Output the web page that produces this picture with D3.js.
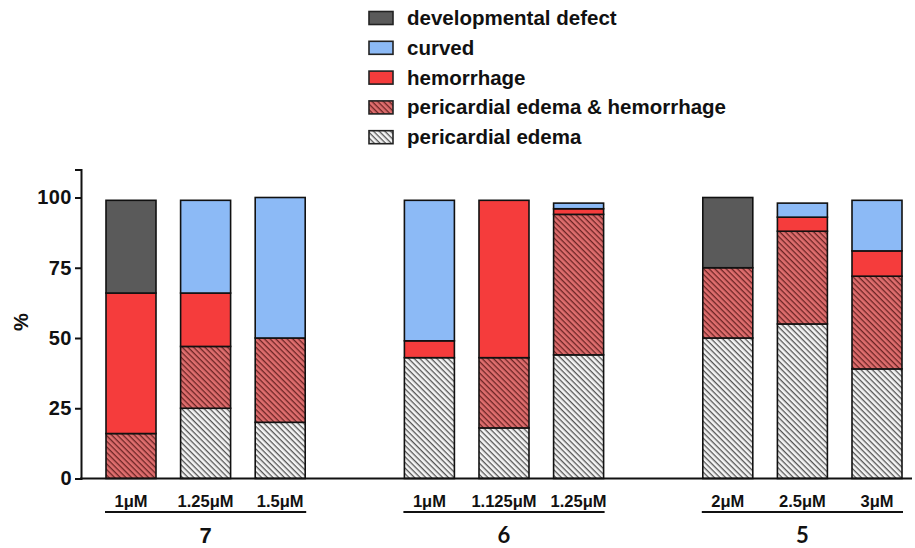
<!DOCTYPE html>
<html><head><meta charset="utf-8">
<script src="https://cdn.jsdelivr.net/npm/d3@7"></script>
<style>body{margin:0;background:#fff}svg{display:block}text{font-family:"Liberation Sans",Arial,sans-serif;font-weight:bold;fill:#111}</style>
</head><body>
<svg id="chart" width="915" height="548"></svg>
<script>
// ---- data ----
const groups = ["7", "6", "5"];
const concentrations = [
  ["1μM", "1.25μM", "1.5μM"],
  ["1μM", "1.125μM", "1.25μM"],
  ["2μM", "2.5μM", "3μM"]
];
const seriesNames = ["pericardial edema", "pericardial edema & hemorrhage", "hemorrhage", "curved", "developmental defect"];
const legendOrder = ["developmental defect", "curved", "hemorrhage", "pericardial edema & hemorrhage", "pericardial edema"];
// values per bar (order: group 7 x3, group 6 x3, group 5 x3)
const pericardialEdema     = [0, 25, 20, 43, 18, 44, 50, 55, 39];
const pericardialHemorrh   = [16, 22, 30, 0, 25, 50, 25, 33, 33];
const hemorrhage           = [50, 19, 0, 6, 56, 2, 0, 5, 9];
const curved               = [0, 33, 50, 50, 0, 2, 0, 5, 18];
const developmentalDefect  = [33, 0, 0, 0, 0, 0, 25, 0, 0];
const yTicks = [0, 25, 50, 75, 100];

// ---- build table ----
const rows = [];
let k = 0;
groups.forEach((g, gi) => {
  concentrations[gi].forEach((c, ci) => {
    rows.push({
      slot: gi * 4 + ci, group: g, conc: c,
      "pericardial edema": pericardialEdema[k],
      "pericardial edema & hemorrhage": pericardialHemorrh[k],
      "hemorrhage": hemorrhage[k],
      "curved": curved[k],
      "developmental defect": developmentalDefect[k]
    });
    k++;
  });
});

const svg = d3.select("#chart");
const defs = svg.append("defs");
function hatch(id, bg, line) {
  const p = defs.append("pattern").attr("id", id).attr("patternUnits", "userSpaceOnUse")
    .attr("width", 4).attr("height", 4).attr("patternTransform", "rotate(45)");
  p.append("rect").attr("width", 4).attr("height", 4).attr("fill", bg);
  p.append("line").attr("x1", 0).attr("y1", 0).attr("x2", 4).attr("y2", 0)
    .attr("stroke", line).attr("stroke-width", 2.6);
}
hatch("hPE", "#f4f4f4", "#555");
hatch("hPEH", "#df6e6e", "#6b2424");
const fills = {
  "developmental defect": "#5a5a5a",
  "curved": "#8cbaf6",
  "hemorrhage": "#f53c3c",
  "pericardial edema & hemorrhage": "url(#hPEH)",
  "pericardial edema": "url(#hPE)"
};

const x = d3.scalePoint().domain(d3.range(11)).range([131, 877]);
const barW = 50;
const y = d3.scaleLinear().domain([0, 110]).range([478.5, 169.4]);

const stack = d3.stack().keys(seriesNames)(rows);
const g = svg.append("g");
stack.forEach(s => {
  g.selectAll(null).data(s.filter(d => d[1] - d[0] > 0)).enter().append("rect")
    .attr("x", d => x(d.data.slot) - barW / 2)
    .attr("width", barW)
    .attr("y", d => y(d[1]))
    .attr("height", d => y(d[0]) - y(d[1]))
    .attr("fill", fills[s.key])
    .attr("stroke", "#111").attr("stroke-width", 1.6);
});

// y axis
const yAxis = svg.append("g").attr("transform", "translate(81,0)")
  .call(d3.axisLeft(y).tickValues(yTicks).tickSize(6).tickPadding(3));
yAxis.select(".domain").attr("stroke", "#111").attr("stroke-width", 2);
yAxis.selectAll(".tick line").attr("stroke", "#111").attr("stroke-width", 2);
yAxis.selectAll(".tick text").style("font-size", "20px").style("font-family", "Liberation Sans, Arial, sans-serif")
  .style("font-weight", "bold").style("letter-spacing", "0.5px").attr("fill", "#111");

// x baseline
svg.append("line").attr("x1", 80).attr("x2", 912).attr("y1", y(0)).attr("y2", y(0))
  .attr("stroke", "#111").attr("stroke-width", 2);

// concentration labels
svg.selectAll(".conc").data(rows).enter().append("text")
  .attr("x", d => x(d.slot)).attr("y", 507)
  .attr("text-anchor", "middle").style("font-size", "16.5px")
  .text(d => d.conc);

// group underline + label
groups.forEach((gname, gi) => {
  const s0 = gi * 4, s2 = gi * 4 + 2;
  svg.append("line").attr("x1", x(s0) - barW / 2 - 1).attr("x2", x(s2) + barW / 2 + 1)
    .attr("y1", 512).attr("y2", 512).attr("stroke", "#111").attr("stroke-width", 2);
  svg.append("text").attr("x", x(s0 + 1)).attr("y", 543).attr("text-anchor", "middle")
    .style("font-size", "22px")
    .style("font-family", gi === 0 ? "Liberation Sans, Arial, sans-serif" : "Lato, sans-serif")
    .text(gname);
});

// y label
svg.append("text").attr("transform", "translate(28,322) rotate(-90)").attr("text-anchor", "middle")
  .style("font-size", "20px").text("%");

// legend
const lg = svg.append("g");
legendOrder.forEach((name, i) => {
  const cy = 18 + i * 29.8;
  lg.append("rect").attr("x", 369).attr("y", cy - 6.5).attr("width", 24).attr("height", 13)
    .attr("fill", fills[name]).attr("stroke", "#222").attr("stroke-width", 1.6);
  lg.append("text").attr("x", 407).attr("y", cy + 7).style("font-size", "20.5px").text(name);
});
</script>
</body></html>
